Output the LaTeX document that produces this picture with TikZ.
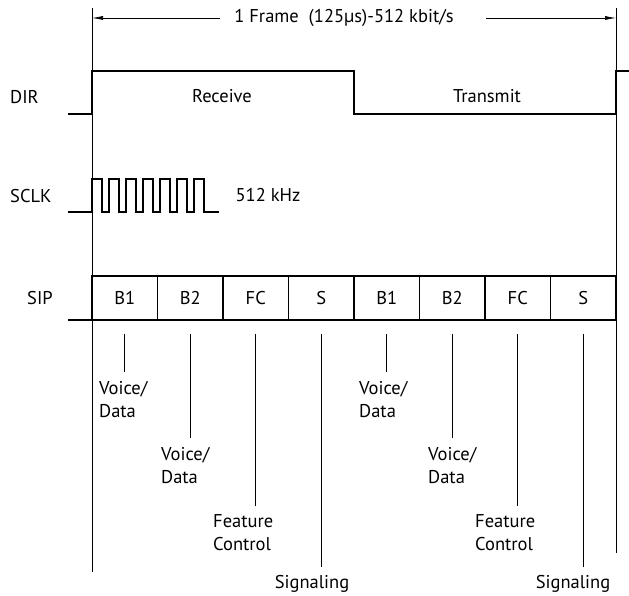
\documentclass[tikz,border=0pt]{standalone}
\usepackage{fontspec}
\setmainfont{PT Sans}
\usetikzlibrary{arrows.meta}
\begin{document}
\begin{tikzpicture}[x=1pt,y=-1pt,
  wave/.style={line width=1.6pt, line join=miter},
  guide/.style={line width=0.7pt},
  lbl/.style={font=\fontsize{18.5}{23}\selectfont, inner sep=0pt},
  slot/.style={draw, line width=1.6pt, minimum width=65.5pt, minimum height=44pt, inner sep=0pt, font=\fontsize{18.5}{23}\selectfont},
  desc/.style={lbl, align=left, anchor=north west},
  framearrow/.style={guide, -{Latex[length=11pt,width=4pt]}},
]
\useasboundingbox (0,0) rectangle (629,596);

% frame boundary lines
\coordinate (Ltop) at (92,8);
\coordinate (Lbot) at (92,572);
\coordinate (Rtop) at (616,8);
\coordinate (Rbot) at (616,553);
\draw[guide] (Ltop) -- (Lbot);
\draw[guide] (Rtop) -- (Rbot);

% frame arrow
\node[lbl] (ft) at (344,18) {1 Frame\ \ (125µs)-512 kbit/s};
\coordinate (la) at (220,18);
\coordinate (ra) at (486,18);
\coordinate (L) at (92,18);
\coordinate (R) at (616,18);
\draw[framearrow] (la) -- (L);
\draw[framearrow] (ra) -- (R);

% DIR
\node[lbl, anchor=west] (dir) at (10,97) {DIR};
\draw[wave] (68,114) -- (92,114) -- (92,71) -- (354,71) -- (354,114) -- (616,114) -- (616,71) -- (629,71);
\node[lbl] (rx) at (222,96) {Receive};
\node[lbl] (tx) at (487,96) {Transmit};

% SCLK
\node[lbl, anchor=west] (sclk) at (10,196) {SCLK};
\draw[wave] (68,212) -- (92,212)
  \foreach \k in {0,...,6} { -- ({92+17*\k},179) -- ({102+17*\k},179) -- ({102+17*\k},212) -- ({109+17*\k},212) }
  -- (219,212);
\node[lbl] (khz) at (268,195) {512 kHz};

% SIP
\node[lbl, anchor=west] (sip) at (27,298) {SIP};
\draw[wave] (68,320) -- (92,320);
\node[slot] (s1) at (124.75,298) {B1};
\node[slot] (s2) at (190.25,298) {B2};
\node[slot] (s3) at (255.75,298) {FC};
\node[slot] (s4) at (321.25,298) {S};
\node[slot] (s5) at (386.75,298) {B1};
\node[slot] (s6) at (452.25,298) {B2};
\node[slot] (s7) at (517.75,298) {FC};
\node[slot] (s8) at (583.25,298) {S};

% descriptions
\node[desc] (d1) at (99,381) {Voice/\\Data};
\node[desc] (d2) at (161,447) {Voice/\\Data};
\node[desc] (d3) at (213,514) {Feature\\Control};
\node[lbl, anchor=north] (d4) at (312,575) {Signaling};
\node[desc] (d5) at (359,381) {Voice/\\Data};
\node[desc] (d6) at (428,447) {Voice/\\Data};
\node[desc] (d7) at (475,514) {Feature\\Control};
\node[lbl, anchor=north] (d8) at (573,575) {Signaling};

% ticks
\foreach \s/\e in {s1/372, s5/372, s2/438, s6/438, s3/506, s7/506, s4/567, s8/567} {
  \coordinate (\s-top) at ([yshift=-13pt]\s.south);
  \draw[guide] (\s-top) -- (\s-top |- 0,\e);
}
\end{tikzpicture}
\end{document}
